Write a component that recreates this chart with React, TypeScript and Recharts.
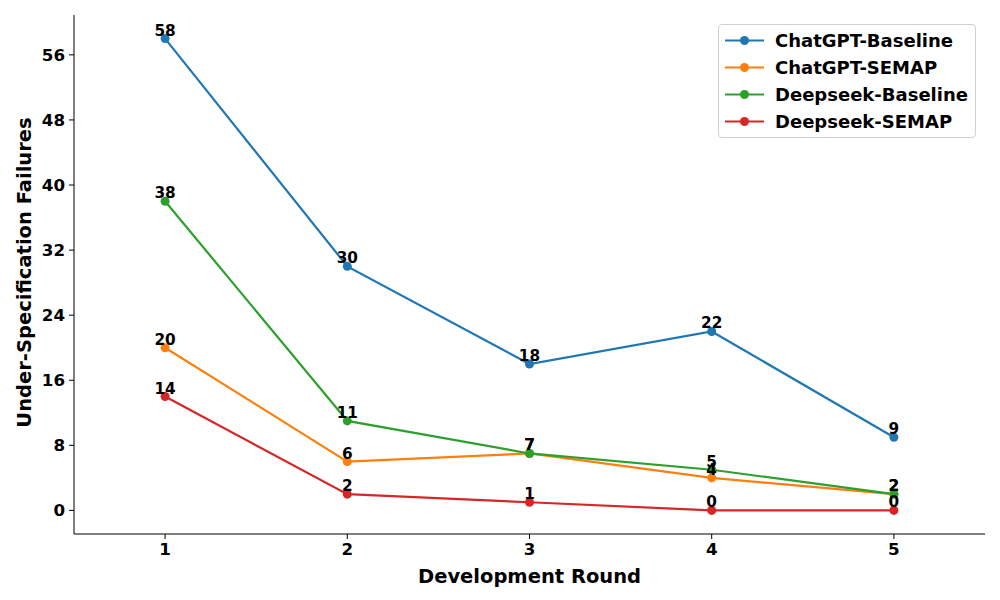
import React from 'react';
import { LineChart, Line, XAxis, YAxis, LabelList, Label } from 'recharts';

const rounds = [1, 2, 3, 4, 5];
const chatgptBaseline = [58, 30, 18, 22, 9];
const chatgptSemap = [20, 6, 7, 4, 2];
const deepseekBaseline = [38, 11, 7, 5, 2];
const deepseekSemap = [14, 2, 1, 0, 0];
const yTicks = [0, 8, 16, 24, 32, 40, 48, 56];

const series = [
  { key: 'chatgptBaseline', name: 'ChatGPT-Baseline', color: '#1f77b4' },
  { key: 'chatgptSemap', name: 'ChatGPT-SEMAP', color: '#ff7f0e' },
  { key: 'deepseekBaseline', name: 'Deepseek-Baseline', color: '#2ca02c' },
  { key: 'deepseekSemap', name: 'Deepseek-SEMAP', color: '#d62728' },
];

const data = rounds.map((r, i) => ({
  round: r,
  chatgptBaseline: chatgptBaseline[i],
  chatgptSemap: chatgptSemap[i],
  deepseekBaseline: deepseekBaseline[i],
  deepseekSemap: deepseekSemap[i],
}));

const FONT = '"DejaVu Sans", sans-serif';
const tickStyle = { fill: '#000', fontSize: 16.7, fontWeight: 'bold', fontFamily: FONT };

function LegendBox() {
  return (
    <div
      style={{
        position: 'absolute',
        left: 718,
        top: 24,
        width: 258,
        height: 114,
        border: '1px solid #d0d0d0',
        borderRadius: 4,
        background: 'rgba(255,255,255,0.8)',
        boxSizing: 'border-box',
        paddingTop: 2,
      }}
    >
      {series.map((s) => (
        <div key={s.key} style={{ display: 'flex', alignItems: 'center', height: 27 }}>
          <svg width={56} height={27} style={{ flex: 'none' }}>
            <line x1={6} y1={13.5} x2={45} y2={13.5} stroke={s.color} strokeWidth={2.2} />
            <circle cx={25.5} cy={13.5} r={4.5} fill={s.color} />
          </svg>
          <span
            style={{
              fontFamily: FONT,
              fontWeight: 'bold',
              fontSize: 18,
              color: '#000',
              whiteSpace: 'nowrap',
            }}
          >
            {s.name}
          </span>
        </div>
      ))}
    </div>
  );
}

export default function App() {
  return (
    <div style={{ position: 'fixed', left: 0, top: 0, width: 1000, height: 600, background: '#fff' }}>
      <LineChart width={1000} height={600} data={data} margin={{ top: 15, right: 15, left: 14, bottom: 26 }}>
        <XAxis
          dataKey="round"
          type="number"
          domain={[0.5, 5.5]}
          ticks={rounds}
          allowDataOverflow
          height={40}
          tickSize={5}
          tickMargin={4}
          stroke="#000"
          tick={tickStyle}
          tickLine={{ stroke: '#000' }}
        >
          <Label
            content={({ viewBox }: any) => (
              <text
                x={viewBox.x + viewBox.width / 2}
                y={576}
                textAnchor="middle"
                dominantBaseline="central"
                fontFamily={FONT}
                fontWeight="bold"
                fontSize={19.5}
                fill="#000"
              >
                Development Round
              </text>
            )}
          />
        </XAxis>
        <YAxis
          type="number"
          domain={[-2.9, 60.9]}
          ticks={yTicks}
          allowDataOverflow
          width={60}
          tickSize={5}
          tickMargin={4}
          stroke="#000"
          tick={tickStyle}
          tickLine={{ stroke: '#000' }}
        >
          <Label
            content={({ viewBox }: any) => {
              const cy = viewBox.y + viewBox.height / 2 - 2;
              return (
                <text
                  x={24}
                  y={cy}
                  transform={`rotate(-90 24 ${cy})`}
                  textAnchor="middle"
                  dominantBaseline="central"
                  fontFamily={FONT}
                  fontWeight="bold"
                  fontSize={19.5}
                  fill="#000"
                >
                  Under-Specification Failures
                </text>
              );
            }}
          />
        </YAxis>
        {series.map((s) => (
          <Line
            key={s.key}
            type="linear"
            dataKey={s.key}
            name={s.name}
            stroke={s.color}
            strokeWidth={2.2}
            dot={{ r: 4.5, fill: s.color, stroke: s.color, strokeWidth: 0 }}
            activeDot={false}
            isAnimationActive={false}
          >
            <LabelList
              dataKey={s.key}
              position="top"
              offset={3}
              style={{ fill: '#000', fontSize: 15.3, fontWeight: 'bold', fontFamily: FONT }}
            />
          </Line>
        ))}
      </LineChart>
      <LegendBox />
    </div>
  );
}
